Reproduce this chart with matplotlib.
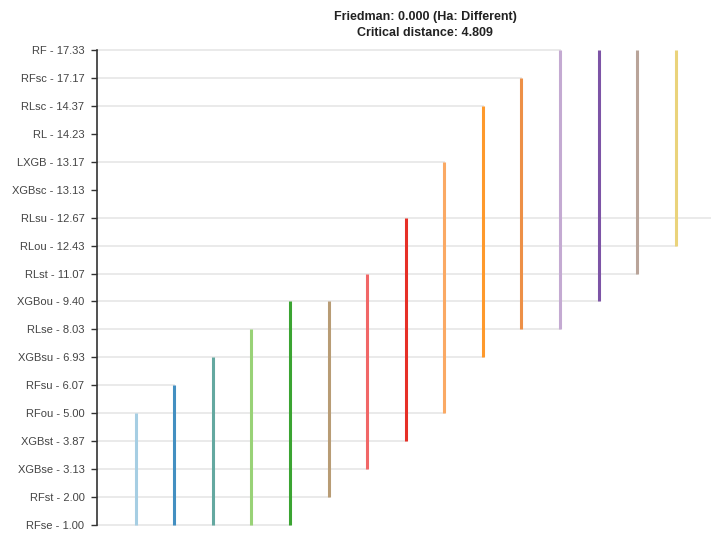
import numpy as np
import matplotlib.pyplot as plt
from matplotlib.colors import to_rgb

plt.rcParams['font.family'] = ['Liberation Sans', 'DejaVu Sans']

# methods sorted by mean rank (bottom -> top)
methods = ['RFse', 'RFst', 'XGBse', 'XGBst', 'RFou', 'RFsu', 'XGBsu', 'RLse', 'XGBou',
           'RLst', 'RLou', 'RLsu', 'XGBsc', 'LXGB', 'RL', 'RLsc', 'RFsc', 'RF']
mean_ranks = [1.00, 2.00, 3.13, 3.87, 5.00, 6.07, 6.93, 8.03, 9.40,
              11.07, 12.43, 12.67, 13.13, 13.17, 14.23, 14.37, 17.17, 17.33]
friedman_p = 0.000
critical_distance = 4.809

# RColorBrewer "Paired", ramped to the number of groups
paired = ['#A6CEE3', '#1F78B4', '#B2DF8A', '#33A02C', '#FB9A99', '#E31A1C',
          '#FDBF6F', '#FF7F00', '#CAB2D6', '#6A3D9A', '#FFFF99', '#B15928']

# groups of methods not significantly different from each method
r = np.array(mean_ranks)
spans = []
for ri in r:
    idx = np.where(np.abs(r - ri) < critical_distance)[0]
    s = (idx.min() + 1, idx.max() + 1)
    if s not in spans:
        spans.append(s)

pal = np.array([to_rgb(c) for c in paired])
pos = np.linspace(0, len(paired) - 1, len(spans))
cols = [tuple(np.interp(p, np.arange(len(paired)), pal[:, k]) for k in range(3)) for p in pos]

fig = plt.figure(figsize=(7.11, 5.33), dpi=100)
ax = fig.add_axes([97 / 711, -6 / 533, 656 / 711, 503 / 533])

# connector lines: bottoms to every group, tops only to the first group reaching them
seen_tops = set()
for c, (lo, hi) in enumerate(spans, start=1):
    ax.plot([0, c], [lo, lo], color='#eaeaea', lw=1.4, zorder=1)
    if hi not in seen_tops:
        ax.plot([0, c], [hi, hi], color='#eaeaea', lw=1.4, zorder=1)
        seen_tops.add(hi)
for c, ((lo, hi), col) in enumerate(zip(spans, cols), start=1):
    ax.plot([c, c], [lo, hi], color=col, lw=2.2, solid_capstyle='butt', zorder=2)

ax.set_xlim(0, len(spans) + 1)
ax.set_ylim(0.5, len(methods) + 0.5)
ax.set_xticks([])
ax.set_yticks(np.arange(1, len(methods) + 1))
ax.set_yticklabels([f'{m} - {v:.2f}' for m, v in zip(methods, mean_ranks)])
ax.tick_params(axis='y', length=4, width=1, pad=5, labelsize=8, labelcolor='#444444', color='#333333')
for s in ['top', 'right', 'bottom']:
    ax.spines[s].set_visible(False)
ax.spines['left'].set_bounds(1, len(methods))
ax.spines['left'].set_linewidth(1.2)
ax.spines['left'].set_color('#333333')
ax.patch.set_alpha(0)

fig.text(425 / 711, 1 - 25 / 533,
         f'Friedman: {friedman_p:.3f} (Ha: Different)\nCritical distance: {critical_distance:.3f}',
         ha='center', va='center', fontsize=9, fontweight='bold', linespacing=1.4, color='#222222')

fig.savefig('out.png', dpi=100)
